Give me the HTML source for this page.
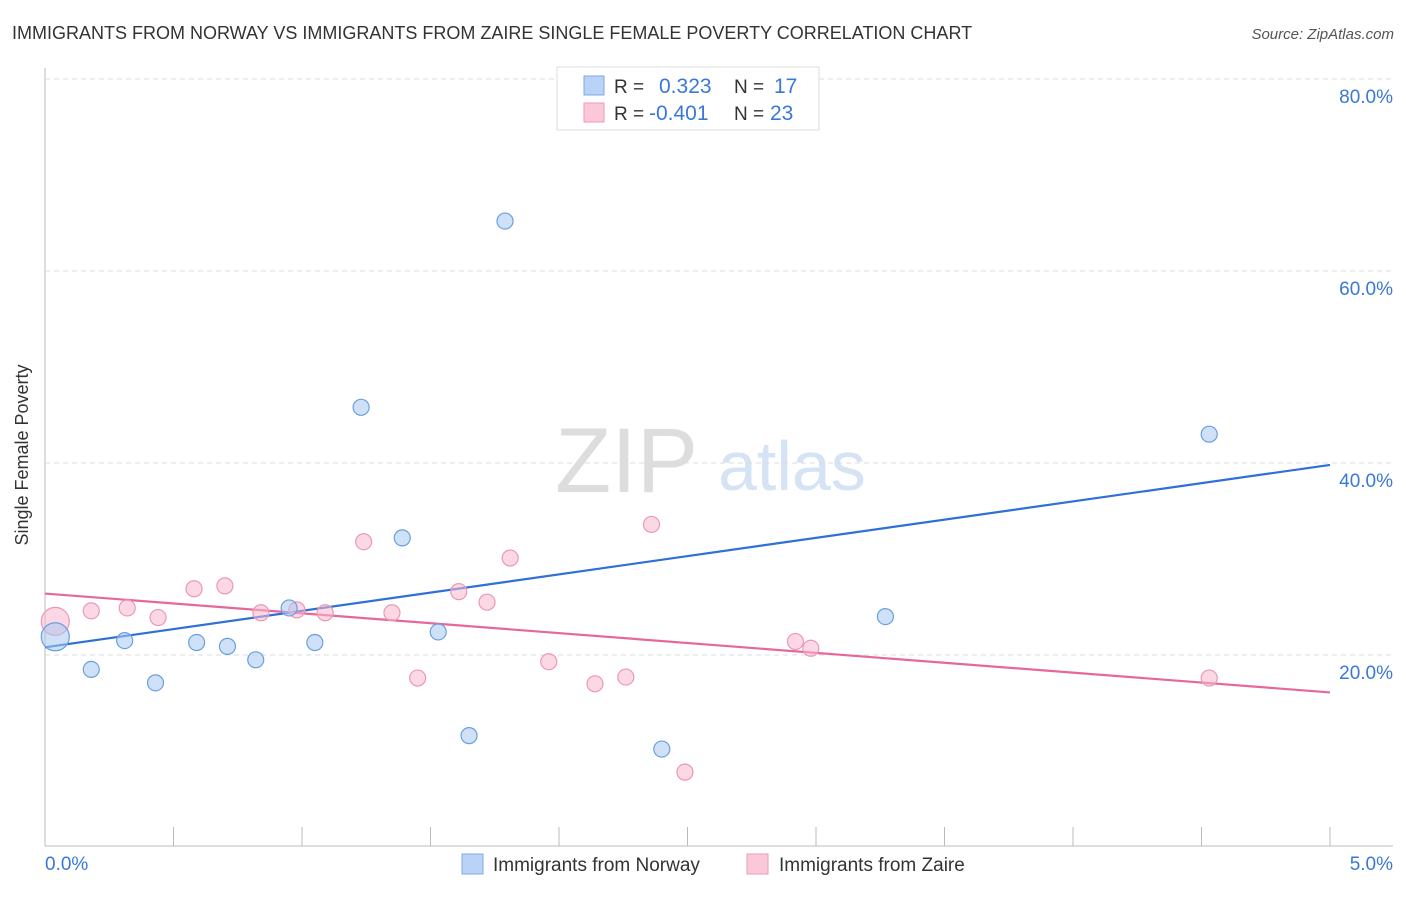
<!DOCTYPE html>
<html><head><meta charset="utf-8"><style>
body{margin:0;background:#fff;font-family:"Liberation Sans",sans-serif;}
svg text{font-family:"Liberation Sans",sans-serif;}
</style></head><body>
<svg id="chart" width="1406" height="892" xmlns="http://www.w3.org/2000/svg">
<text x="12" y="39" font-size="18" fill="#333">IMMIGRANTS FROM NORWAY VS IMMIGRANTS FROM ZAIRE SINGLE FEMALE POVERTY CORRELATION CHART</text>
<text x="1394" y="39" font-size="15" fill="#555" font-style="italic" text-anchor="end">Source: ZipAtlas.com</text>
<text x="28" y="455" font-size="18" fill="#333" text-anchor="middle" transform="rotate(-90 28 455)">Single Female Poverty</text>
<text x="555" y="492" font-size="92" fill="#ddd" font-family="Liberation Serif">ZIP</text>
<text x="718" y="490" font-size="70" fill="#d5e3f5">atlas</text>
<g id="grid"></g>
<g id="lines"></g>
<g id="pts"></g>
<g>
<rect x="557" y="67" width="262" height="63" fill="#fff" stroke="#ddd"/>
<rect x="584" y="76" width="20" height="19" fill="#b8d3f5" stroke="#7eaae8"/>
<text x="614" y="93" font-size="19" fill="#333">R =</text>
<text x="659" y="93" font-size="21" fill="#3a78d8">0.323</text>
<text x="734" y="93" font-size="19" fill="#333">N =</text>
<text x="774" y="93" font-size="21" fill="#3a78d8">17</text>
<rect x="584" y="103" width="20" height="19" fill="#fbc8d8" stroke="#ee9ab8"/>
<text x="614" y="120" font-size="19" fill="#333">R =</text>
<text x="649" y="120" font-size="21" fill="#3a78d8">-0.401</text>
<text x="734" y="120" font-size="19" fill="#333">N =</text>
<text x="770" y="120" font-size="21" fill="#3a78d8">23</text>
</g>
<g>
<rect x="462" y="854" width="21" height="20" fill="#b8d3f5" stroke="#7eaae8"/>
<text x="493" y="871" font-size="19" fill="#333">Immigrants from Norway</text>
<rect x="747" y="854" width="21" height="20" fill="#fbc8d8" stroke="#ee9ab8"/>
<text x="779" y="871" font-size="19" fill="#333">Immigrants from Zaire</text>
</g>
</svg>
<script>
const xTicks=[0,0.5,1,1.5,2,2.5,3,3.5,4,4.5,5];
const yTicks=[20,40,60,80];
const norwayX=[0.04,0.18,0.31,0.43,0.59,0.71,0.82,0.95,1.05,1.23,1.39,1.53,1.65,1.79,2.40,3.27,4.53];
const norwayY=[21.9,18.5,21.5,17.1,21.3,20.9,19.5,24.9,21.3,45.8,32.2,22.4,11.6,65.2,10.2,24.0,43.0];
const zaireX=[0.04,0.18,0.32,0.44,0.58,0.70,0.84,0.98,1.09,1.24,1.35,1.45,1.61,1.72,1.81,1.96,2.14,2.26,2.36,2.49,2.92,2.98,4.53];
const zaireY=[23.5,24.6,24.9,23.9,26.9,27.2,24.4,24.7,24.4,31.8,24.4,17.6,26.6,25.5,30.1,19.3,17.0,17.7,33.6,7.8,21.4,20.7,17.6];
const norwayTrend=[20.8,39.8];
const zaireTrend=[26.4,16.1];
const NS="http://www.w3.org/2000/svg";
const X=v=>45+v*257;
const Y=v=>847-v*9.6;
function mk(t,a,p){const e=document.createElementNS(NS,t);for(const k in a)e.setAttribute(k,a[k]);document.getElementById(p).appendChild(e);return e;}
let e;
e=mk('line',{x1:45,y1:68,x2:45,y2:846,stroke:'#bbb'},'grid');


e=mk('line',{x1:45,y1:846,x2:1393,y2:846,stroke:'#bbb'},'grid');


xTicks.forEach(t=>{if(t===0)return;
 e=mk('line',{x1:X(t),y1:827,x2:X(t),y2:846,stroke:'#bbb'},'grid');
 
 });
yTicks.forEach(t=>{
 e=mk('line',{x1:45,y1:Y(t),x2:1393,y2:Y(t),stroke:'#ddd','stroke-dasharray':'5,4'},'grid');
 
 
 e=mk('text',{x:1393,y:Y(t)+24,'font-size':19,fill:'#3a78d8','text-anchor':'end'},'grid');
 e.textContent=t.toFixed(1)+'%';
 
 });
e=mk('text',{x:45,y:870,'font-size':19,fill:'#3a78d8'},'grid');e.textContent=xTicks[0].toFixed(1)+'%';


e=mk('text',{x:1393,y:870,'font-size':19,fill:'#3a78d8','text-anchor':'end'},'grid');e.textContent=xTicks[xTicks.length-1].toFixed(1)+'%';


e=mk('line',{x1:X(0),y1:Y(norwayTrend[0]),x2:X(5),y2:Y(norwayTrend[1]),stroke:'#2f6fd8','stroke-width':2.2},'lines');


e=mk('line',{x1:X(0),y1:Y(zaireTrend[0]),x2:X(5),y2:Y(zaireTrend[1]),stroke:'#e8679a','stroke-width':2.2},'lines');


zaireX.forEach((x,i)=>{
 e=mk('circle',{cx:X(x),cy:Y(zaireY[i]),r:i===0?14:8,fill:'rgba(248,184,206,0.55)',stroke:'#eb98b6','stroke-width':1.2},'pts');
 
 });
norwayX.forEach((x,i)=>{
 e=mk('circle',{cx:X(x),cy:Y(norwayY[i]),r:i===0?14:8,fill:'rgba(168,200,240,0.55)',stroke:'#6a9fe0','stroke-width':1.2},'pts');
 
 });
</script>
</body></html>
